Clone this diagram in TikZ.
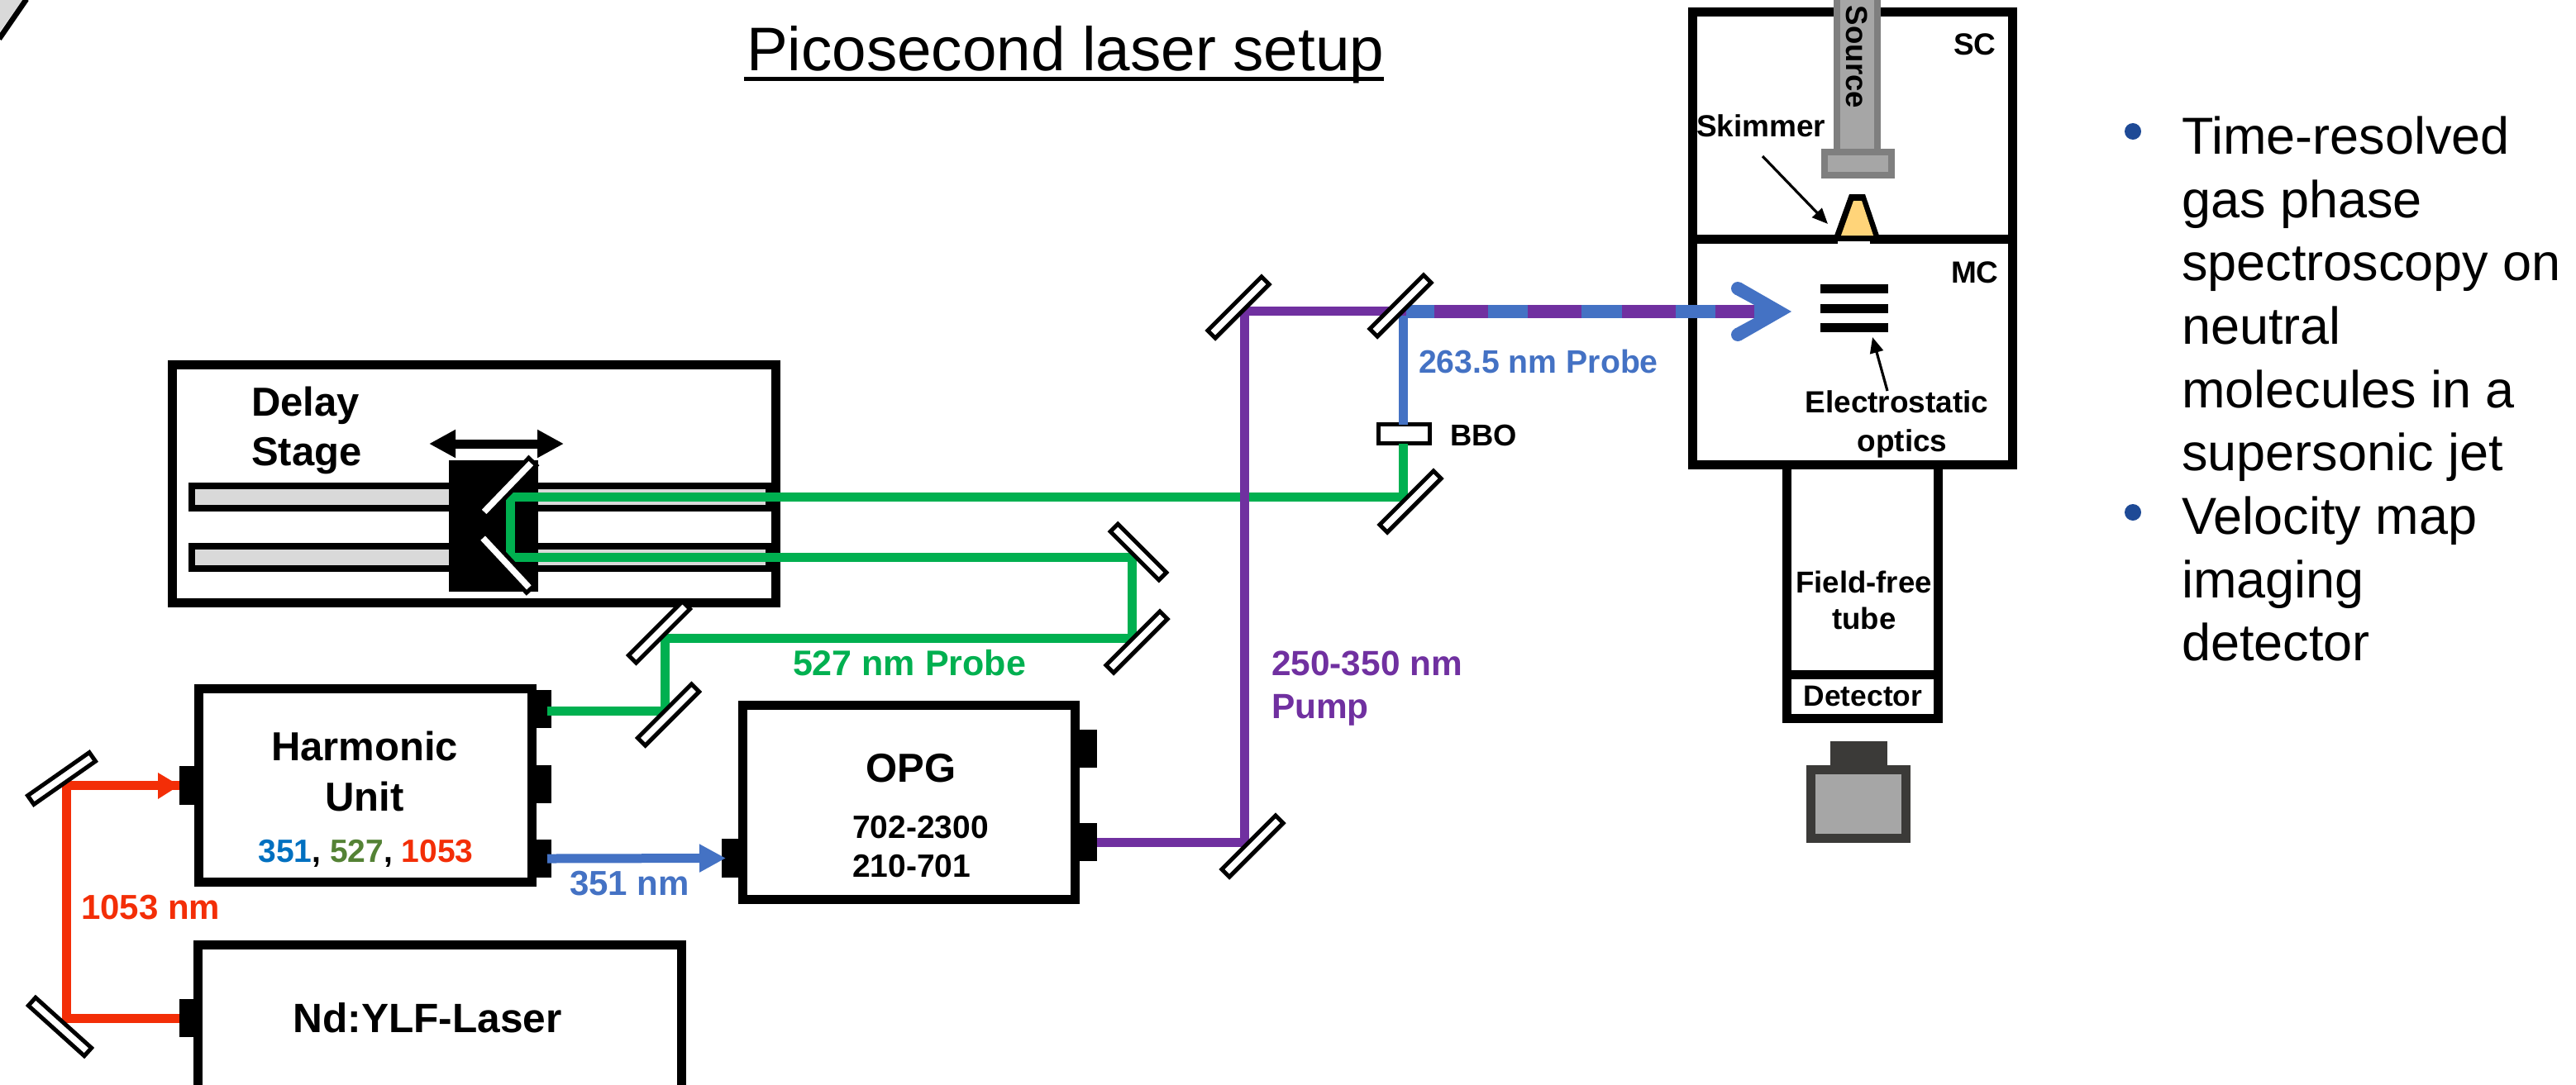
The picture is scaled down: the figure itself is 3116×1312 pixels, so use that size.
\documentclass[tikz,border=0pt]{standalone}
\usepackage{fontspec}
\setmainfont{Liberation Sans}
\usetikzlibrary{arrows.meta}
\definecolor{bred}{HTML}{F32E07}
\definecolor{bgreen}{HTML}{00B050}
\definecolor{bblue}{HTML}{4472C4}
\definecolor{bpurple}{HTML}{7030A0}
\definecolor{railgrey}{HTML}{D9D9D9}
\definecolor{srcfill}{HTML}{A6A6A6}
\definecolor{srcedge}{HTML}{7F7F7F}
\definecolor{camedge}{HTML}{3B3A38}
\definecolor{skim}{HTML}{FFD479}
\definecolor{bullet}{HTML}{1E4A96}
\definecolor{tblue}{HTML}{0070C0}
\definecolor{tgreen}{HTML}{548235}
\tikzset{
  plainbox/.style={rectangle,inner sep=0pt,outer sep=0pt},
  frame/.style={plainbox,draw=black,fill=white,line width=5.5pt},
  port/.style={plainbox,fill=black},
  crystal/.style={plainbox,draw=black,fill=white,line width=2.5pt},
  rail/.style={plainbox,fill=railgrey},
  mirrorbox/.style={plainbox,draw=black,fill=white,line width=2.5pt,line join=miter},
  beam/.style={line width=5.5pt,line cap=butt,line join=miter},
  lbl/.style={inner sep=0pt,outer sep=0pt,font=\bfseries},
  plain/.style={inner sep=0pt,outer sep=0pt,align=left,anchor=north west,font=\fontsize{31.5}{38.3}\selectfont},
  thinarrow/.style={line width=1.6pt,-{Triangle[length=9.5pt,width=8pt]}},
  srcbox/.style={plainbox,draw=srcedge,fill=srcfill,line width=4pt},
  cambox/.style={plainbox,draw=camedge,fill=srcfill,line width=5.5pt},
}
\newcommand{\rectnode}[6]{\node[#2,minimum width={(#5-#3)*0.5pt},minimum height={(#6-#4)*0.5pt}] (#1) at ({(#3+#5)/2},{(#4+#6)/2}) {};}
\newcommand{\mirrornode}[5]{\node[mirrorbox,rotate=#4,minimum width={#5*0.5pt-2.5pt},minimum height=6.5pt] (#1) at (#2,#3) {};}
\newcommand{\txt}[7]{\node[lbl,anchor=#2] (#1) at (#3,#4) {\fontsize{#5}{#5}\selectfont\color{#6}#7};}
\begin{document}
\begin{tikzpicture}[x=0.5pt,y=-0.5pt]
\clip (0,0) rectangle (3116,1312);
\fill[white] (0,0) rectangle (3116,1312);
% corner remnant
\fill[railgrey] (0,0) -- (27,0) -- (0,38) -- cycle;
\coordinate (cornerA) at (32,-1);
\coordinate (cornerB) at (-1,47);
\draw[black,line width=3.3pt] (cornerA) -- (cornerB);
% title
\node[inner sep=0pt,outer sep=0pt,anchor=base west] (title) at (903,85) {\fontsize{37.3}{37.3}\selectfont Picosecond laser setup};
\coordinate (ulA) at (900,95.5);
\coordinate (ulB) at (1674,95.5);
\draw[black,line width=2.6pt] (ulA) -- (ulB);
% delay stage
\rectnode{delay}{frame}{208.5}{441.5}{938.5}{729.5}
\rectnode{railA}{port}{228}{584}{933}{619}
\rectnode{railB}{port}{228}{657}{933}{692}
\rectnode{railAl}{rail}{236}{592}{543}{611}
\rectnode{railAr}{rail}{651}{592}{926}{611}
\rectnode{railBl}{rail}{236}{665}{543}{684}
\rectnode{railBr}{rail}{651}{665}{926}{684}
\rectnode{carriage}{port}{543}{557}{651}{716}
\coordinate (moveA) at (519,537);
\coordinate (moveB) at (682,537);
\draw[line width=5.5pt,{Triangle[length=16pt,width=16pt]}-{Triangle[length=16pt,width=16pt]}] (moveA) -- (moveB);
\txt{delaytxt}{base west}{304}{503}{24.5}{black}{Delay}
\txt{stagetxt}{base west}{304}{563}{24.5}{black}{Stage}
% boxes
\rectnode{harm}{frame}{240.5}{833.5}{643.5}{1067.5}
\rectnode{nd}{frame}{239.5}{1143.5}{824}{1325}
\rectnode{opg}{frame}{898.5}{853.5}{1300}{1088.5}
\rectnode{hin}{port}{217}{927}{235}{974}
\rectnode{hoA}{port}{649}{835}{667}{881}
\rectnode{hoB}{port}{649}{926}{667}{972}
\rectnode{hoC}{port}{649}{1016}{667}{1062}
\rectnode{ndo}{port}{217}{1209}{234}{1255}
\rectnode{opgin}{port}{873}{1015}{893}{1062}
\rectnode{opgA}{port}{1305}{883}{1327}{929}
\rectnode{opgB}{port}{1305}{996}{1327}{1042}
% vacuum chambers
\rectnode{tube}{frame}{2161}{562}{2344.5}{816.5}
\rectnode{det}{frame}{2161}{816.5}{2344.5}{869.5}
\rectnode{sc}{frame}{2047}{14.5}{2434}{289}
\rectnode{mc}{frame}{2047}{289}{2434}{562.5}
\rectnode{notch}{plainbox,fill=white}{2223}{292}{2262}{295}
\rectnode{rod}{srcbox}{2222}{-20}{2271}{184}
\rectnode{rodbase}{srcbox}{2207}{184}{2288}{212}
\node[lbl,anchor=base,rotate=-90] (source) at (2233,69) {\fontsize{18.3}{18.3}\selectfont Source};
\fill[black] (2219,285) -- (2237,235) -- (2256,235) -- (2273,285) -- cycle;
\fill[skim] (2227,285) -- (2242,243) -- (2252,243) -- (2266,285) -- cycle;
\rectnode{plateA}{port}{2202}{344}{2284}{355}
\rectnode{plateB}{port}{2202}{368}{2284}{379}
\rectnode{plateC}{port}{2202}{391}{2284}{402}
\coordinate (skA) at (2132,189);
\coordinate (skB) at (2211,271);
\draw[thinarrow] (skA) -- (skB);
\coordinate (elA) at (2283,473);
\coordinate (elB) at (2265,408);
\draw[thinarrow] (elA) -- (elB);
\txt{sctxt}{base west}{2363}{66}{18.5}{black}{SC}
\txt{mctxt}{base west}{2360}{342}{18.5}{black}{MC}
\txt{skimtxt}{base west}{2052}{165}{18.5}{black}{Skimmer}
\txt{elect}{base}{2294.5}{499}{18.5}{black}{Electrostatic}
\txt{optic}{base}{2301}{546}{18.5}{black}{optics}
\txt{ffA}{base}{2254.5}{717}{18.3}{black}{Field-free}
\txt{ffB}{base}{2255}{761}{18.3}{black}{tube}
\txt{dettxt}{base}{2253.5}{854}{17.7}{black}{Detector}
% camera
\rectnode{camtop}{plainbox,fill=camedge}{2214}{897}{2283}{926}
\rectnode{cam}{cambox}{2190.5}{931.5}{2305.5}{1014.5}
% beam corner points
\coordinate (r1) at (80,950.5);
\coordinate (r2) at (80,1232);
\coordinate (g1) at (804,860.5);
\coordinate (g2) at (804,772.5);
\coordinate (g3) at (1369,772.5);
\coordinate (g4) at (1369,674);
\coordinate (g5) at (617,674);
\coordinate (g6) at (617,601.5);
\coordinate (g7) at (1697.5,601.5);
\coordinate (p1) at (1505.5,1019);
\coordinate (p2) at (1505.5,376.5);
\coordinate (p3) at (1701,376.5);
\coordinate (b1) at (1697.5,377);
\coordinate (d0) at (1690,377);
\coordinate (d1) at (1735,377);
\coordinate (d2) at (2122,377);
\rectnode{bbo}{crystal}{1667.5}{513.5}{1729.5}{536.5}
% beams
\draw[beam,bred] (ndo.west) -- (r2) -- (r1) -- (hin.west |- r1);
\fill[bred] (191,935) -- (217,950.5) -- (191,967) -- cycle;
\draw[beam,bgreen,shorten <=-2.5pt] (hoA.east |- g1) -- (g1) -- (g2) -- (g3) -- (g4) -- (g5) -- (g6) -- (g7) -- (bbo.south -| g7);
\draw[beam,bblue,shorten <=-2.5pt,shorten >=-2.5pt,-{Triangle[length=16pt,width=16pt]}] (hoC.east) -- (opgin.west);
\draw[beam,bblue] (bbo.north -| b1) -- (b1);
\draw[bblue,line width=8pt] (d0) -- (d2);
\draw[bpurple,line width=8pt,dash pattern=on 32.5pt off 24.17pt] (d1) -- (d2);
\fill[bblue] (2167,377) -- (2106,342) -- (2098,356) -- (2122,369) -- (2122,385) -- (2098,398) -- (2106,412) -- cycle;
\coordinate (wA) at (2102,349);
\coordinate (wB) at (2102,405);
\fill[bblue] (wA) circle[radius=8];
\fill[bblue] (wB) circle[radius=8];
\draw[beam,bpurple] (opgB.east |- p1) -- (p1) -- (p2) -- (p3);
% mirrors
\mirrornode{mA}{74.5}{942}{35}{96}
\mirrornode{mB}{72.5}{1242.5}{-42}{96}
\mirrornode{mC}{614}{590}{46}{92}
\mirrornode{mD}{612}{681}{-47}{92}
\mirrornode{mE}{797.5}{765}{45}{97}
\mirrornode{mF}{808.5}{865}{45}{97}
\mirrornode{mG}{1377}{668}{-45}{88}
\mirrornode{mH}{1375}{777}{45}{97}
\mirrornode{mI}{1498}{372}{45}{97}
\mirrornode{mJ}{1694}{370}{45}{97}
\mirrornode{mK}{1706}{607}{45}{97}
\mirrornode{mL}{1515}{1024}{45}{97}
% labels
\txt{harmA}{base}{441}{920}{24.5}{black}{Harmonic}
\txt{harmB}{base}{441}{981}{24.5}{black}{Unit}
\txt{harmC}{base}{442.5}{1043}{19.5}{black}{{\color{tblue}351}, {\color{tgreen}527}, {\color{bred}1053}}
\txt{ndtxt}{base}{517}{1249}{24.8}{black}{Nd:YLF-Laser}
\txt{opgtxt}{base}{1102}{946}{24.5}{black}{OPG}
\txt{opgC}{base west}{1031}{1014}{19.5}{black}{702-2300}
\txt{opgD}{base west}{1031}{1061}{19.5}{black}{210-701}
\txt{redl}{base west}{98}{1112}{21}{bred}{1053 nm}
\txt{bluel}{base west}{689}{1083}{21}{bblue}{351 nm}
\txt{greenl}{base west}{959}{817}{21.5}{bgreen}{527 nm Probe}
\txt{probel}{base west}{1716}{451}{19.6}{bblue}{263.5 nm Probe}
\txt{bbotxt}{base west}{1754}{539}{18.2}{black}{BBO}
\txt{pumpA}{base west}{1538}{817}{21.2}{bpurple}{250-350 nm}
\txt{pumpB}{base west}{1538}{869}{21.2}{bpurple}{Pump}
% bullets
\node[circle,fill=bullet,inner sep=0pt,minimum size=10pt] (bulA) at (2580,159) {};
\node[circle,fill=bullet,inner sep=0pt,minimum size=10pt] (bulB) at (2580,620) {};
\node[plain] (listA) at (2639,141) {Time-resolved\\gas phase\\spectroscopy on\\neutral\\molecules in a\\supersonic jet};
\node[plain] (listB) at (2639,601) {Velocity map\\imaging\\detector};
\end{tikzpicture}
\end{document}
